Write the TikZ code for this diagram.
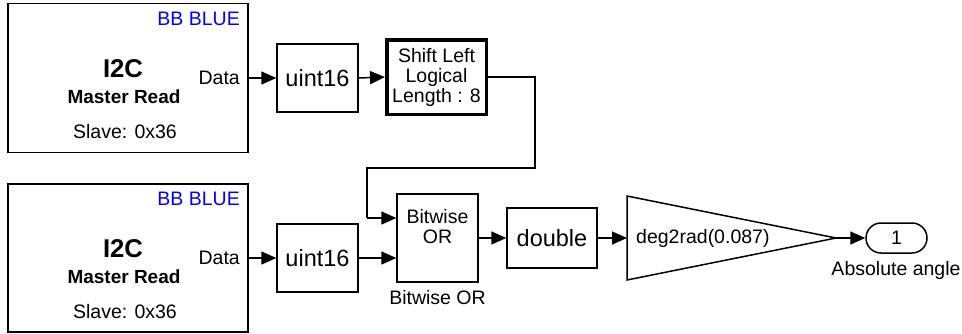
\documentclass[tikz,border=0pt]{standalone}
\usepackage{fontspec}
\setmainfont{Liberation Sans}
\usetikzlibrary{arrows.meta}
\begin{document}
\begin{tikzpicture}[x=1pt,y=-1pt,
  blk/.style={draw, line width=1.5pt, inner sep=0pt},
  sm/.style={font=\fontsize{19.5}{20}\selectfont, inner sep=0pt},
  big/.style={font=\fontsize{23.5}{24}\selectfont, inner sep=0pt},
  arr/.style={line width=1.5pt, -{Triangle[length=15pt,width=13pt]}},
  wire/.style={line width=1.5pt}]
\useasboundingbox (0,0) rectangle (962,333);
% I2C blocks
\node[blk, minimum width=240pt, minimum height=149pt] (i2ct) at (128,78) {};
\node[blk, minimum width=240pt, minimum height=148pt] (i2cb) at (128,258) {};
\foreach \n/\y in {t/0, b/180}{
  \node[sm, text=blue, anchor=base east] (bb\n) at (240,25+\y) {BB BLUE};
  \node[font=\fontsize{25.7}{26}\selectfont\bfseries, inner sep=0pt, anchor=base] (ic\n) at (123,77+\y) {I2C};
  \node[font=\fontsize{19}{20}\selectfont\bfseries, inner sep=0pt, anchor=base] (mr\n) at (124,103+\y) {Master Read};
  \node[sm, anchor=base] (sl\n) at (125,138+\y) {Slave: 0x36};
}
\node[sm, anchor=base east] (dt) at (240,84) {Data};
\node[sm, anchor=base east] (db) at (240,264) {Data};
% converters
\node[blk, minimum width=81pt, minimum height=68pt, big] (u1) at (317.5,78) {uint16};
\node[blk, minimum width=81pt, minimum height=68pt, big] (u2) at (317.5,258) {uint16};
\node[draw, line width=3.5pt, minimum width=99.5pt, minimum height=74.5pt, sm, align=center] (sh) at (436.5,77) {Shift Left\\Logical\\Length : 8};
% bitwise OR
\node[blk, minimum width=81pt, minimum height=88pt] (bor) at (437.5,238) {};
\node[sm, align=center] (bort) at (437.5,227) {Bitwise\\OR};
\node[sm, anchor=base] (borl) at (437.5,304) {Bitwise OR};
% double
\node[blk, minimum width=90pt, minimum height=60pt, big] (dbl) at (552,238) {double};
% gain
\coordinate (gA) at (627,196);
\coordinate (gB) at (627,280);
\coordinate (gT) at (836,238);
\draw[line width=1.5pt, line join=miter] (gA) -- (gT) -- (gB) -- cycle;
\node[sm, anchor=west] (gtx) at (636,238) {deg2rad(0.087)};
% outport
\node[draw, line width=1.5pt, rounded corners=15pt, minimum width=61pt, minimum height=30pt, sm] (op) at (896.5,238) {1};
\node[sm, anchor=base] (opl) at (896,275) {Absolute angle};
% connectors
\draw[arr] (i2ct.east) -- (u1.west);
\draw[arr] (u1.east) -- (sh.west);
\coordinate (r1) at (535,168);
\coordinate (r2) at (367,168);
\coordinate (r3) at (367,218);
\draw[wire] (sh.east) -- (sh.east -| r1) -- (r1) -- (r2) -- (r3);
\draw[arr] (r3) -- (r3 -| bor.west);
\draw[arr] (i2cb.east) -- (u2.west);
\draw[arr] (u2.east) -- (u2.east -| bor.west);
\draw[arr] (bor.east) -- (dbl.west);
\draw[arr] (dbl.east) -- (dbl.east -| gA);
\draw[arr] (gT) -- (op.west);
\end{tikzpicture}
\end{document}
